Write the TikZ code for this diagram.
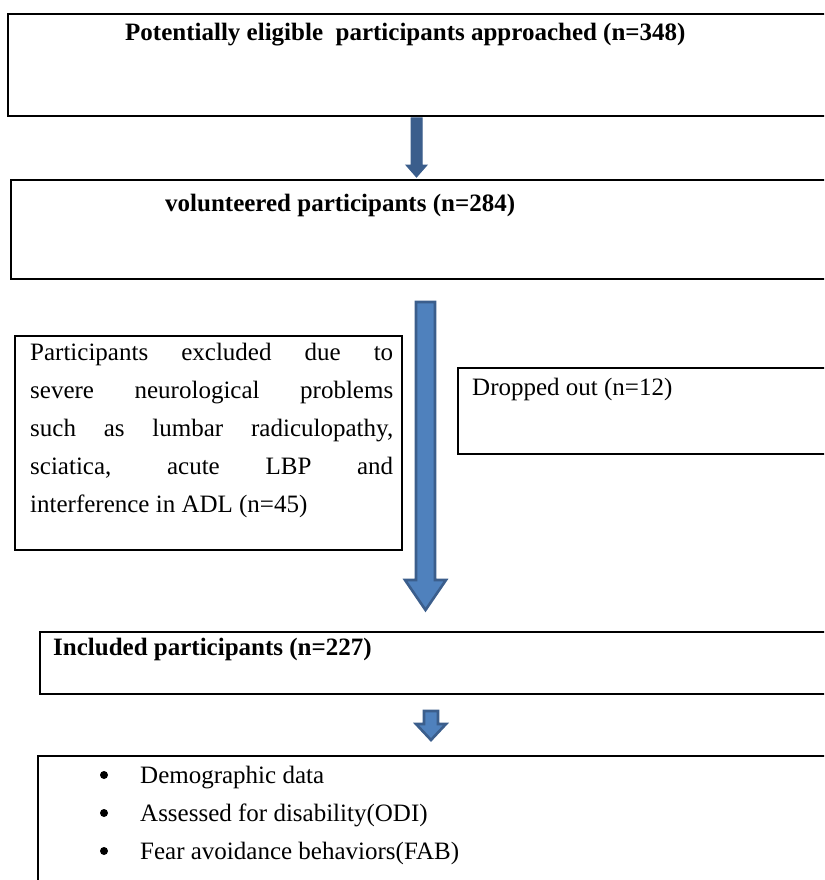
\documentclass[tikz,border=0pt]{standalone}
\usepackage{fontspec}
\setmainfont{Liberation Serif}
\usetikzlibrary{calc}

\tikzset{
  box/.style={draw, line width=2.2pt, anchor=north west, inner sep=0pt},
  txt/.style={anchor=base west, inner sep=0pt, font=\fontsize{25}{38}\selectfont},
  bold/.style={txt, font=\fontsize{25}{38}\selectfont\bfseries},
  darkarrow/.style={fill=arrowdark, draw=arrowdark, line width=1pt},
  lightarrow/.style={fill=arrowlight, draw=arrowdark, line width=2.6pt, line join=miter}
}
\definecolor{arrowdark}{HTML}{3B5E8C}
\definecolor{arrowlight}{HTML}{4F81BD}

% block arrow: x left, x right of shaft, y top, y of head, y tip, head overhang
\newcommand{\blockarr}[7][darkarrow]{%
  \draw[#1] (#2,#4) -- (#3,#4) -- (#3,#5) -- ($(#3,#5)+(#7,0)$)
    -- ($({(#2+#3)/2},#6)$) -- ($(#2,#5)-(#7,0)$) -- (#2,#5) -- cycle;}

\begin{document}
\begin{tikzpicture}[x=1pt,y=-1pt]
  \useasboundingbox (0,0) rectangle (824,880);
  \clip (0,0) rectangle (824,880);

  % boxes
  \node[box, minimum width=830pt, minimum height=102pt] (approached) at (7,13) {};
  \node[box, minimum width=830pt, minimum height=99pt] (volunteered) at (10,179) {};
  \node[box, minimum width=387pt, minimum height=214pt] (excluded) at (14,335) {};
  \node[box, minimum width=380pt, minimum height=86pt] (dropped) at (457,367) {};
  \node[box, minimum width=800pt, minimum height=62pt] (included) at (39,631) {};
  \node[box, minimum width=800pt, minimum height=140pt] (measures) at (37,755) {};

  % texts
  \node[bold] (approachedtxt) at (125,41) {Potentially eligible\ \ participants approached (n=348)};
  \node[bold] (volunteeredtxt) at (165,211) {volunteered participants (n=284)};
  \node[txt, anchor=north west, align=left] (excludedtxt) at (30,343) {%
    \makebox[363pt][s]{Participants excluded due to}\\
    \makebox[363pt][s]{severe neurological problems}\\
    \makebox[363pt][s]{such as lumbar radiculopathy,}\\
    \makebox[363pt][s]{sciatica, acute LBP and}\\
    interference in ADL (n=45)};
  \node[txt] (droppedtxt) at (472,395) {Dropped out (n=12)};
  \node[bold] (includedtxt) at (53,655) {Included participants (n=227)};
  \foreach \t [count=\i] in {Demographic data, Assessed for disability(ODI),
      Fear avoidance behaviors(FAB)} {
    \fill (104,{737+38*\i}) circle (4pt);
    \node[txt] (item\i) at (140,{745+38*\i}) {\t};
  }

  % arrows
  \blockarr{411}{422}{118}{165}{177}{5}
  \blockarr[lightarrow]{416}{435}{302}{580}{610}{11}
  \blockarr[lightarrow]{424}{438}{711}{724}{740}{8}
\end{tikzpicture}
\end{document}
